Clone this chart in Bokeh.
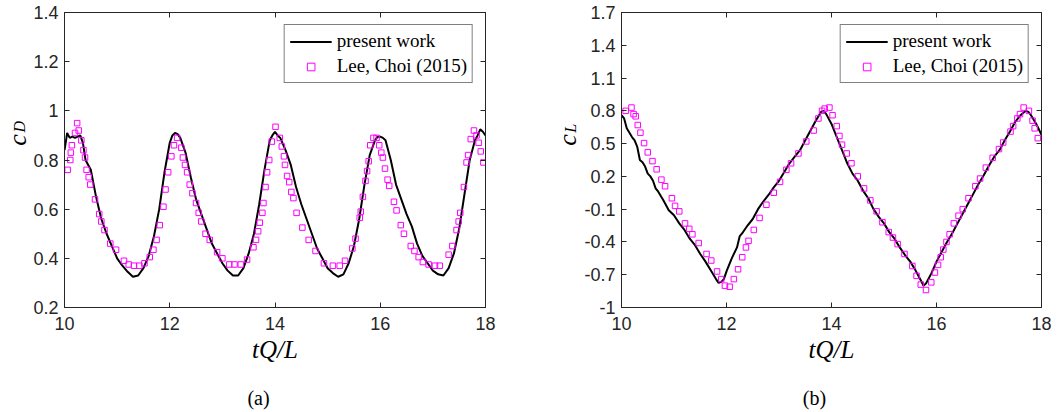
import math
from bokeh.plotting import figure
from bokeh.layouts import row, column
from bokeh.models import Range1d, LinearAxis, FixedTicker, Label, Legend, LegendItem
from bokeh.embed import file_html
from bokeh.resources import INLINE

# ---------------- data: panel (a) drag coefficient ----------------
cd_line_t = [10.0, 10.03, 10.05, 10.1, 10.15, 10.2, 10.25, 10.3, 10.35, 10.4, 10.45, 10.5,
             10.6, 10.7, 10.8, 10.9, 11.0, 11.1, 11.2, 11.3, 11.4, 11.5, 11.6, 11.7, 11.8,
             11.9, 12.0, 12.05, 12.1, 12.15, 12.2, 12.3, 12.4, 12.5, 12.6, 12.7, 12.8, 12.9,
             13.0, 13.1, 13.2, 13.3, 13.4, 13.5, 13.6, 13.7, 13.8, 13.9, 13.95, 14.0, 14.05,
             14.1, 14.2, 14.3, 14.4, 14.5, 14.6, 14.7, 14.8, 14.9, 15.0, 15.1, 15.2, 15.3,
             15.4, 15.5, 15.6, 15.7, 15.8, 15.9, 15.95, 16.0, 16.05, 16.1, 16.2, 16.3, 16.4,
             16.5, 16.6, 16.7, 16.8, 16.9, 17.0, 17.1, 17.2, 17.3, 17.4, 17.5, 17.6, 17.7,
             17.8, 17.85, 17.9, 17.95, 18.0]
cd_line_v = [0.84, 0.88, 0.91, 0.89, 0.895, 0.89, 0.895, 0.90, 0.87, 0.80, 0.78, 0.76,
             0.65, 0.56, 0.50, 0.45, 0.40, 0.37, 0.345, 0.325, 0.33, 0.36, 0.41, 0.49, 0.60,
             0.75, 0.87, 0.90, 0.91, 0.905, 0.89, 0.83, 0.73, 0.64, 0.58, 0.52, 0.46, 0.42,
             0.38, 0.35, 0.33, 0.33, 0.36, 0.42, 0.50, 0.62, 0.76, 0.88, 0.90, 0.915, 0.90,
             0.89, 0.84, 0.78, 0.69, 0.62, 0.56, 0.50, 0.44, 0.40, 0.36, 0.34, 0.325, 0.335,
             0.38, 0.45, 0.56, 0.70, 0.82, 0.88, 0.895, 0.895, 0.89, 0.88, 0.80, 0.70, 0.64,
             0.58, 0.53, 0.46, 0.41, 0.38, 0.35, 0.335, 0.33, 0.36, 0.42, 0.52, 0.66, 0.80,
             0.88, 0.90, 0.925, 0.915, 0.90]

cd_ref_t = [10.06, 10.11, 10.12, 10.14, 10.2, 10.24, 10.27, 10.32, 10.36, 10.39, 10.42, 10.46,
            10.49, 10.58, 10.66, 10.70, 10.76, 10.87, 10.98, 11.13, 11.22, 11.32, 11.42, 11.52,
            11.62, 11.69, 11.75, 11.81, 11.88, 11.92, 11.97, 12.03, 12.08, 12.14, 12.22, 12.25,
            12.29, 12.33, 12.38, 12.43, 12.50, 12.55, 12.60, 12.68, 12.76, 12.90, 13.00, 13.13,
            13.23, 13.35, 13.47, 13.59, 13.64, 13.68, 13.71, 13.76, 13.78, 13.82, 13.85, 13.89,
            13.94, 14.01, 14.09, 14.13, 14.17, 14.19, 14.23, 14.27, 14.31, 14.35, 14.41, 14.52,
            14.64, 14.77, 14.93, 15.10, 15.23, 15.33, 15.47, 15.53, 15.61, 15.63, 15.67, 15.72,
            15.75, 15.78, 15.81, 15.87, 15.93, 15.98, 16.02, 16.05, 16.09, 16.14, 16.17, 16.26,
            16.31, 16.39, 16.45, 16.58, 16.65, 16.73, 16.81, 16.92, 17.04, 17.13, 17.30, 17.37,
            17.45, 17.49, 17.52, 17.59, 17.64, 17.67, 17.72, 17.78, 17.83, 17.87, 17.91, 17.96]
cd_ref_v = [0.76, 0.80, 0.83, 0.86, 0.91, 0.95, 0.92, 0.88, 0.84, 0.81, 0.76, 0.73,
            0.70, 0.64, 0.58, 0.55, 0.515, 0.46, 0.435, 0.39, 0.375, 0.37, 0.37, 0.38,
            0.405, 0.435, 0.475, 0.535, 0.61, 0.68, 0.75, 0.815, 0.86, 0.89, 0.85, 0.81,
            0.78, 0.75, 0.70, 0.665, 0.625, 0.585, 0.55, 0.50, 0.475, 0.425, 0.40, 0.375,
            0.375, 0.375, 0.395, 0.445, 0.475, 0.51, 0.545, 0.585, 0.625, 0.69, 0.75, 0.80,
            0.875, 0.935, 0.89, 0.855, 0.815, 0.78, 0.735, 0.71, 0.67, 0.645, 0.585, 0.525,
            0.475, 0.43, 0.38, 0.37, 0.37, 0.39, 0.44, 0.48, 0.565, 0.59, 0.65, 0.715,
            0.755, 0.795, 0.86, 0.89, 0.89, 0.86, 0.83, 0.81, 0.765, 0.72, 0.695, 0.63,
            0.595, 0.535, 0.50, 0.45, 0.43, 0.405, 0.385, 0.375, 0.37, 0.37, 0.415, 0.45,
            0.515, 0.55, 0.585, 0.69, 0.79, 0.82, 0.885, 0.92, 0.90, 0.87, 0.835, 0.79]

# ---------------- data: panel (b) lift coefficient ----------------
cl_line_t = [10.0, 10.05, 10.1, 10.2, 10.25, 10.3, 10.35, 10.4, 10.45, 10.5, 10.55, 10.6,
             10.65, 10.7, 10.8, 10.9, 11.0, 11.1, 11.2, 11.3, 11.4, 11.5, 11.6, 11.7, 11.8,
             11.85, 11.9, 11.95, 12.0, 12.1, 12.2, 12.25, 12.3, 12.4, 12.5, 12.6, 12.7, 12.8,
             12.9, 13.0, 13.1, 13.2, 13.3, 13.4, 13.5, 13.6, 13.7, 13.8, 13.85, 13.9, 14.0,
             14.1, 14.2, 14.3, 14.4, 14.5, 14.6, 14.7, 14.8, 14.9, 15.0, 15.1, 15.2, 15.3,
             15.4, 15.5, 15.6, 15.7, 15.75, 15.8, 15.9, 16.0, 16.1, 16.2, 16.3, 16.4, 16.5,
             16.6, 16.7, 16.8, 16.9, 17.0, 17.1, 17.2, 17.3, 17.4, 17.5, 17.6, 17.7, 17.75,
             17.8, 17.9, 18.0]
cl_line_v = [0.76, 0.73, 0.64, 0.56, 0.53, 0.47, 0.35, 0.33, 0.29, 0.225, 0.20, 0.16,
             0.09, 0.06, -0.02, -0.11, -0.156, -0.23, -0.29, -0.37, -0.43, -0.51, -0.58,
             -0.66, -0.74, -0.775, -0.765, -0.74, -0.67, -0.55, -0.45, -0.35, -0.32, -0.25,
             -0.19, -0.10, -0.03, 0.03, 0.10, 0.16, 0.24, 0.32, 0.38, 0.44, 0.53, 0.62, 0.71,
             0.79, 0.80, 0.77, 0.68, 0.56, 0.44, 0.32, 0.225, 0.16, 0.07, 0.00, -0.10, -0.17,
             -0.23, -0.31, -0.37, -0.45, -0.52, -0.58, -0.66, -0.75, -0.80, -0.78, -0.69,
             -0.58, -0.49, -0.40, -0.32, -0.23, -0.14, -0.05, 0.04, 0.13, 0.21, 0.30, 0.38,
             0.44, 0.53, 0.61, 0.70, 0.76, 0.80, 0.79, 0.76, 0.68, 0.58]

cl_ref_t = [10.08, 10.19, 10.23, 10.27, 10.31, 10.36, 10.43, 10.50, 10.59, 10.67, 10.76, 10.83,
            10.96, 11.02, 11.10, 11.21, 11.29, 11.35, 11.47, 11.62, 11.71, 11.82, 11.90, 11.97,
            12.06, 12.14, 12.22, 12.30, 12.37, 12.42, 12.52, 12.63, 12.76, 12.90, 13.02, 13.14,
            13.23, 13.37, 13.52, 13.66, 13.75, 13.82, 13.87, 13.96, 14.02, 14.10, 14.15, 14.20,
            14.29, 14.38, 14.50, 14.62, 14.74, 14.86, 14.97, 15.09, 15.17, 15.26, 15.39, 15.54,
            15.62, 15.70, 15.80, 15.90, 15.97, 16.03, 16.08, 16.13, 16.19, 16.25, 16.33, 16.42,
            16.50, 16.61, 16.74, 16.83, 16.94, 17.07, 17.19, 17.27, 17.41, 17.46, 17.54, 17.59,
            17.66, 17.76, 17.83, 17.87, 17.93]
cl_ref_v = [0.80, 0.83, 0.77, 0.75, 0.67, 0.60, 0.505, 0.42, 0.34, 0.265, 0.17, 0.11,
            0.00, -0.07, -0.12, -0.23, -0.28, -0.33, -0.41, -0.51, -0.57, -0.67, -0.74, -0.80,
            -0.81, -0.74, -0.65, -0.54, -0.45, -0.39, -0.29, -0.18, -0.06, 0.05, 0.15, 0.26,
            0.32, 0.41, 0.52, 0.62, 0.73, 0.80, 0.82, 0.83, 0.76, 0.66, 0.57, 0.49,
            0.41, 0.32, 0.20, 0.09, -0.02, -0.12, -0.22, -0.31, -0.36, -0.42, -0.51, -0.62,
            -0.71, -0.79, -0.84, -0.77, -0.68, -0.61, -0.54, -0.47, -0.40, -0.33, -0.23, -0.16,
            -0.10, 0.00, 0.11, 0.18, 0.28, 0.37, 0.45, 0.51, 0.61, 0.66, 0.73, 0.77,
            0.83, 0.80, 0.71, 0.64, 0.55]

# ---------------- ticks and texts ----------------
x_ticks = [10, 12, 14, 16, 18]
cd_ticks = [0.2, 0.4, 0.6, 0.8, 1.0, 1.2, 1.4]
cd_tick_labels = ["0.2", "0.4", "0.6", "0.8", "1", "1.2", "1.4"]
cl_ticks = [-1.0, -0.7, -0.4, -0.1, 0.2, 0.5, 0.8, 1.1, 1.4, 1.7]
cl_tick_labels = ["-1", "-0.7", "-0.4", "-0.1", "0.2", "0.5", "0.8", "1.1", "1.4", "1.7"]

legend_labels = ["present work", "Lee, Choi (2015)"]
x_label = "tQ/L"
captions = ["(a)", "(b)"]

AX = "#262626"
TICK_FONT = "Liberation Sans"
SERIF = "Liberation Serif"
TOP_H = 377      # height of the plot row
CAP_H = 35       # height of the caption strip


def style_axis(ax, ticks, labels=None, show_labels=True):
    ax.ticker = FixedTicker(ticks=ticks)
    ax.major_tick_in = 5
    ax.major_tick_out = 0
    ax.minor_tick_line_color = None
    ax.axis_line_color = AX
    ax.major_tick_line_color = AX
    ax.axis_line_width = 1
    if show_labels:
        ax.major_label_text_font = TICK_FONT
        ax.major_label_text_font_size = "18px"
        ax.major_label_text_color = AX
        if labels is not None:
            ax.major_label_overrides = {t: l for t, l in zip(ticks, labels)}
    else:
        ax.major_label_text_color = None
        ax.major_label_text_font_size = "1px"
        ax.major_label_standoff = 0


def make_panel(line_t, line_v, ref_t, ref_v, y_range, y_ticks, y_labels,
               border_left, border_right, frame_w):
    p = figure(output_backend="svg", toolbar_location=None,
               frame_width=frame_w, frame_height=295,
               min_border_left=border_left, min_border_right=border_right,
               min_border_top=12, min_border_bottom=TOP_H - 12 - 295,
               x_range=Range1d(10, 18), y_range=Range1d(*y_range),
               background_fill_color="white", border_fill_color="white")
    p.outline_line_color = AX
    p.xgrid.visible = False
    p.ygrid.visible = False

    style_axis(p.xaxis[0], x_ticks)
    p.xaxis.major_label_standoff = 9
    p.xaxis.axis_label = x_label
    p.xaxis.axis_label_text_font = SERIF
    p.xaxis.axis_label_text_font_style = "italic"
    p.xaxis.axis_label_text_font_size = "25px"
    p.xaxis.axis_label_text_color = "black"
    p.xaxis.axis_label_standoff = 3

    style_axis(p.yaxis[0], y_ticks, y_labels)
    p.yaxis.major_label_standoff = 6

    top = LinearAxis()
    style_axis(top, x_ticks, show_labels=False)
    p.add_layout(top, "above")
    right = LinearAxis()
    style_axis(right, y_ticks, show_labels=False)
    p.add_layout(right, "right")

    r_line = p.line(line_t, line_v, line_color="black", line_width=2)
    r_ref = p.scatter(ref_t, ref_v, marker="square", size=5.5,
                      fill_color=None, line_color="#ff00ff", line_width=1)

    legend = Legend(items=[LegendItem(label=legend_labels[0], renderers=[r_line]),
                           LegendItem(label=legend_labels[1], renderers=[r_ref])],
                    location="top_right", margin=12, padding=5, spacing=3,
                    glyph_width=42, glyph_height=19, label_height=19,
                    label_standoff=5, label_text_font=SERIF,
                    label_text_font_size="19px", label_text_color="black",
                    border_line_color="black", border_line_width=1,
                    background_fill_color="white", background_fill_alpha=1.0)
    p.add_layout(legend)
    return p


def text_strip(width, height, x0, y0):
    """A bare figure used only to hold text labels (page-pixel coordinates)."""
    f = figure(output_backend="svg", toolbar_location=None, width=width, height=height,
               x_range=Range1d(x0, x0 + width), y_range=Range1d(y0 + height, y0),
               x_axis_type=None, y_axis_type=None, min_border=0,
               background_fill_color="white", border_fill_color="white")
    f.outline_line_color = None
    f.grid.visible = False
    return f


def add_text(p, x, y, text, size, angle=0.0, italic=True):
    p.add_layout(Label(x=x, y=y, text=text, angle=angle, text_font=SERIF,
                       text_font_style="italic" if italic else "normal",
                       text_font_size=size, text_color="black",
                       text_align="center", text_baseline="middle"))


pa = make_panel(cd_line_t, cd_line_v, cd_ref_t, cd_ref_v, (0.2, 1.4), cd_ticks,
                cd_tick_labels, 33, 43, 421)
pb = make_panel(cl_line_t, cl_line_v, cl_ref_t, cl_ref_v, (-1.0, 1.7), cl_ticks,
                cl_tick_labels, 39, 18, 420)

# y-axis labels c_D and c_L with subscripts
ya = text_strip(30, TOP_H, 0, 0)
add_text(ya, 16.5, 163, "c", "26px", angle=math.pi / 2)
add_text(ya, 19, 146, "D", "16px", angle=math.pi / 2)
yb = text_strip(53, TOP_H, 527, 0)
add_text(yb, 566, 163, "c", "26px", angle=math.pi / 2)
add_text(yb, 569, 148, "L", "16px", angle=math.pi / 2)

# panel captions
cap = text_strip(1057, CAP_H, 0, TOP_H)
add_text(cap, 258, 397, captions[0], "20px", italic=False)
add_text(cap, 814, 397, captions[1], "20px", italic=False)

layout = column(row(ya, pa, yb, pb), cap)
open("out.html", "w").write(file_html(layout, INLINE))
